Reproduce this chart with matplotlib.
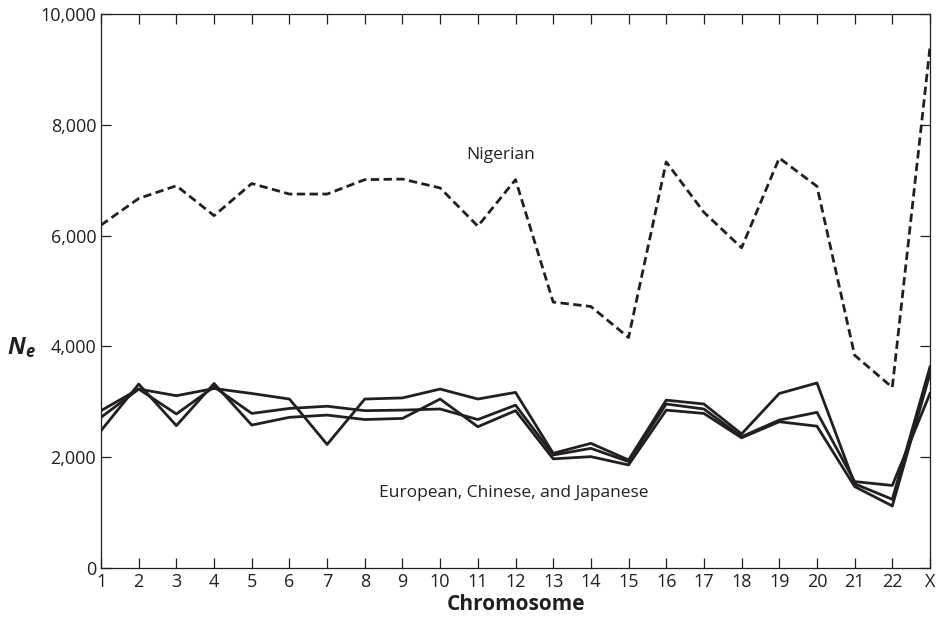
import matplotlib.pyplot as plt
from matplotlib.ticker import FuncFormatter

plt.rcParams['font.family'] = ['Open Sans', 'DejaVu Sans']
plt.rcParams['mathtext.fontset'] = 'custom'
plt.rcParams['mathtext.bf'] = 'Open Sans:bold:italic'

# chromosome labels along the x axis
chromosomes = [str(i) for i in range(1, 23)] + ['X']

# effective population size per chromosome
nigerian = [6190, 6670, 6900, 6360, 6940, 6750, 6750, 7010, 7020, 6860, 6170, 7010,
            4800, 4720, 4160, 7330, 6420, 5780, 7400, 6890, 3840, 3260, 9400]
group_a = [2840, 3230, 3110, 3240, 3150, 3050, 2230, 3050, 3070, 3230, 3050, 3170,
           2070, 2250, 1950, 3030, 2960, 2420, 3150, 3340, 1520, 1240, 3630]
group_b = [2720, 3230, 2780, 3270, 2790, 2880, 2920, 2840, 2850, 2870, 2680, 2940,
           2040, 2160, 1920, 2960, 2870, 2370, 2670, 2810, 1560, 1490, 3150]
group_c = [2480, 3320, 2570, 3330, 2580, 2720, 2760, 2680, 2700, 3050, 2550, 2840,
           1970, 2010, 1860, 2850, 2790, 2350, 2640, 2560, 1470, 1120, 3510]

ink = '#231f20'
x = list(range(1, len(chromosomes) + 1))

fig = plt.figure(figsize=(9.39, 6.25), dpi=100)
ax = fig.add_axes([0.1076, 0.0912, 0.8828, 0.8864])

ax.plot(x, nigerian, color=ink, lw=2.0, dashes=(3, 1.6))
for series in (group_a, group_b, group_c):
    ax.plot(x, series, color=ink, lw=2.0)

ax.set_xlim(1, 23)
ax.set_ylim(0, 10000)
ax.set_xticks(x)
ax.set_xticklabels(chromosomes)
ax.set_yticks(range(0, 10001, 2000))
ax.yaxis.set_major_formatter(FuncFormatter(lambda v, p: f'{int(v):,}'))
ax.tick_params(direction='in', length=7, width=0.9, top=True, right=True,
               labelsize=13, colors=ink, pad=3.5)
for s in ax.spines.values():
    s.set_linewidth(0.9)
    s.set_color(ink)

ax.text(11.6, 7450, 'Nigerian', fontsize=12.5, color=ink, ha='center', va='center')
ax.text(11.95, 1350, 'European, Chinese, and Japanese', fontsize=12.5, color=ink,
        ha='center', va='center')

ax.set_xlabel('Chromosome', fontsize=15, fontweight='bold', color=ink, labelpad=2)
fig.text(0.023, 0.443, r'$\mathbf{N_e}$', fontsize=17, color=ink,
         ha='center', va='center')

fig.savefig('out.png', dpi=100)
